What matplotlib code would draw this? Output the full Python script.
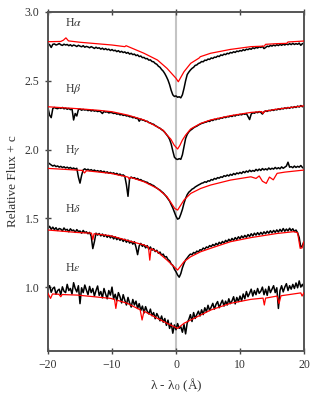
import numpy as np
import matplotlib
matplotlib.use("Agg")
import matplotlib.pyplot as plt

# ── Data ──────────────────────────────────────────────────────────────────────
# observed spectra sampled every 0.25 Å from -20 to +20 (8 values per 2 Å row)
obs_ha = [2.770, 2.762, 2.742, 2.765, 2.768, 2.760, 2.764, 2.771,
          2.762, 2.757, 2.766, 2.760, 2.764, 2.755, 2.762, 2.752,
          2.760, 2.756, 2.749, 2.758, 2.752, 2.747, 2.755, 2.744,
          2.750, 2.746, 2.740, 2.748, 2.742, 2.735, 2.744, 2.736,
          2.740, 2.730, 2.737, 2.727, 2.734, 2.725, 2.730, 2.720,
          2.727, 2.718, 2.722, 2.712, 2.719, 2.708, 2.714, 2.705,
          2.710, 2.700, 2.706, 2.694, 2.700, 2.690, 2.694, 2.683,
          2.688, 2.676, 2.680, 2.668, 2.670, 2.660, 2.662, 2.650,
          2.652, 2.640, 2.638, 2.626, 2.620, 2.606, 2.598, 2.582,
          2.570, 2.552, 2.530, 2.505, 2.472, 2.430, 2.398, 2.386,
          2.390, 2.380, 2.384, 2.376, 2.398, 2.445, 2.500, 2.545,
          2.563, 2.578, 2.590, 2.598, 2.612, 2.615, 2.626, 2.630,
          2.640, 2.638, 2.650, 2.648, 2.658, 2.655, 2.666, 2.662,
          2.672, 2.670, 2.680, 2.676, 2.688, 2.684, 2.694, 2.690,
          2.700, 2.696, 2.706, 2.702, 2.711, 2.706, 2.716, 2.712,
          2.720, 2.716, 2.726, 2.720, 2.730, 2.726, 2.734, 2.729,
          2.740, 2.734, 2.743, 2.738, 2.747, 2.742, 2.750, 2.734,
          2.742, 2.752, 2.748, 2.757, 2.752, 2.760, 2.754, 2.762,
          2.756, 2.765, 2.758, 2.766, 2.760, 2.768, 2.762, 2.770,
          2.763, 2.772, 2.764, 2.770, 2.765, 2.774, 2.758, 2.770,
          2.772]
obs_hb = [2.303, 2.250, 2.232, 2.298, 2.306, 2.300, 2.297, 2.304,
          2.299, 2.306, 2.296, 2.301, 2.293, 2.299, 2.290, 2.296,
          2.215, 2.262, 2.244, 2.291, 2.294, 2.286, 2.292, 2.287,
          2.290, 2.283, 2.288, 2.280, 2.286, 2.279, 2.283, 2.276,
          2.281, 2.274, 2.262, 2.277, 2.272, 2.275, 2.266, 2.270,
          2.268, 2.262, 2.266, 2.257, 2.261, 2.252, 2.256, 2.248,
          2.252, 2.244, 2.246, 2.238, 2.240, 2.231, 2.235, 2.226,
          2.228, 2.206, 2.222, 2.214, 2.213, 2.205, 2.206, 2.196,
          2.194, 2.186, 2.184, 2.174, 2.168, 2.160, 2.155, 2.145,
          2.137, 2.125, 2.110, 2.095, 2.074, 2.040, 1.990, 1.945,
          1.932, 1.928, 1.934, 1.929, 1.962, 2.020, 2.080, 2.110,
          2.128, 2.140, 2.148, 2.158, 2.165, 2.170, 2.178, 2.184,
          2.190, 2.193, 2.198, 2.200, 2.207, 2.204, 2.214, 2.211,
          2.220, 2.217, 2.226, 2.222, 2.231, 2.228, 2.236, 2.232,
          2.240, 2.237, 2.245, 2.240, 2.249, 2.244, 2.254, 2.250,
          2.256, 2.252, 2.261, 2.256, 2.262, 2.240, 2.218, 2.258,
          2.268, 2.264, 2.272, 2.268, 2.276, 2.270, 2.258, 2.274,
          2.281, 2.277, 2.285, 2.282, 2.289, 2.284, 2.292, 2.288,
          2.296, 2.291, 2.300, 2.295, 2.303, 2.298, 2.306, 2.300,
          2.309, 2.303, 2.312, 2.306, 2.316, 2.309, 2.320, 2.311,
          2.314]
obs_hg = [1.905, 1.896, 1.888, 1.880, 1.886, 1.876, 1.881, 1.872,
          1.878, 1.869, 1.875, 1.866, 1.872, 1.864, 1.870, 1.860,
          1.866, 1.858, 1.864, 1.800, 1.756, 1.812, 1.852, 1.860,
          1.851, 1.857, 1.848, 1.854, 1.845, 1.851, 1.842, 1.847,
          1.840, 1.846, 1.836, 1.842, 1.832, 1.838, 1.828, 1.834,
          1.826, 1.831, 1.821, 1.827, 1.816, 1.822, 1.811, 1.816,
          1.806, 1.745, 1.660, 1.790, 1.800, 1.792, 1.796, 1.786,
          1.790, 1.779, 1.782, 1.772, 1.770, 1.764, 1.762, 1.752,
          1.750, 1.742, 1.738, 1.728, 1.720, 1.712, 1.705, 1.694,
          1.685, 1.672, 1.658, 1.642, 1.625, 1.600, 1.575, 1.545,
          1.515, 1.494, 1.500, 1.530, 1.565, 1.610, 1.645, 1.672,
          1.690, 1.700, 1.712, 1.718, 1.728, 1.735, 1.742, 1.748,
          1.755, 1.758, 1.766, 1.762, 1.773, 1.770, 1.782, 1.778,
          1.790, 1.785, 1.796, 1.792, 1.802, 1.798, 1.810, 1.805,
          1.815, 1.808, 1.820, 1.813, 1.826, 1.818, 1.830, 1.824,
          1.834, 1.826, 1.840, 1.832, 1.844, 1.836, 1.850, 1.840,
          1.848, 1.842, 1.856, 1.846, 1.858, 1.848, 1.862, 1.852,
          1.860, 1.852, 1.866, 1.856, 1.864, 1.858, 1.870, 1.860,
          1.868, 1.860, 1.874, 1.864, 1.872, 1.880, 1.908, 1.872,
          1.876, 1.868, 1.880, 1.870, 1.878, 1.872, 1.884, 1.870,
          1.862]
obs_hd = [1.428, 1.442, 1.420, 1.436, 1.418, 1.432, 1.412, 1.426,
          1.422, 1.408, 1.430, 1.414, 1.420, 1.402, 1.424, 1.410,
          1.415, 1.398, 1.418, 1.404, 1.408, 1.392, 1.412, 1.396,
          1.402, 1.388, 1.398, 1.370, 1.280, 1.330, 1.392, 1.378,
          1.390, 1.372, 1.386, 1.368, 1.380, 1.362, 1.376, 1.358,
          1.372, 1.350, 1.366, 1.345, 1.358, 1.340, 1.352, 1.332,
          1.348, 1.326, 1.342, 1.320, 1.334, 1.312, 1.330, 1.290,
          1.236, 1.300, 1.318, 1.296, 1.308, 1.285, 1.302, 1.275,
          1.292, 1.268, 1.280, 1.258, 1.268, 1.246, 1.255, 1.232,
          1.240, 1.218, 1.222, 1.200, 1.192, 1.168, 1.158, 1.130,
          1.112, 1.088, 1.072, 1.098, 1.140, 1.172, 1.198, 1.212,
          1.228, 1.240, 1.236, 1.252, 1.246, 1.262, 1.255, 1.272,
          1.268, 1.284, 1.276, 1.292, 1.286, 1.302, 1.294, 1.310,
          1.300, 1.318, 1.306, 1.326, 1.314, 1.332, 1.320, 1.340,
          1.328, 1.348, 1.334, 1.354, 1.340, 1.360, 1.346, 1.366,
          1.352, 1.372, 1.358, 1.376, 1.362, 1.382, 1.368, 1.388,
          1.372, 1.392, 1.378, 1.396, 1.380, 1.398, 1.384, 1.402,
          1.388, 1.406, 1.392, 1.410, 1.394, 1.412, 1.398, 1.416,
          1.400, 1.420, 1.404, 1.426, 1.406, 1.422, 1.408, 1.428,
          1.410, 1.424, 1.404, 1.415, 1.395, 1.360, 1.290, 1.300,
          1.335]
obs_he = [0.995, 1.010, 0.962, 0.990, 1.000, 0.948, 0.975, 0.985,
          0.945, 1.002, 0.970, 0.960, 1.020, 0.975, 0.990, 0.950,
          1.032, 0.990, 0.965, 1.010, 0.880, 0.995, 0.960, 1.015,
          0.978, 0.945, 1.005, 0.960, 0.990, 0.935, 0.975, 1.008,
          0.940, 0.968, 0.922, 0.990, 0.950, 0.915, 0.975, 0.942,
          1.000, 0.915, 0.948, 0.900, 0.960, 0.930, 0.885, 0.945,
          0.905, 0.870, 0.925, 0.885, 0.855, 0.910, 0.870, 0.898,
          0.845, 0.880, 0.830, 0.862, 0.812, 0.858, 0.825, 0.805,
          0.840, 0.792, 0.815, 0.770, 0.808, 0.785, 0.755, 0.790,
          0.745, 0.772, 0.722, 0.760, 0.700, 0.738, 0.665, 0.725,
          0.690, 0.735, 0.700, 0.712, 0.672, 0.728, 0.660, 0.740,
          0.765, 0.800, 0.750, 0.815, 0.772, 0.800, 0.825, 0.790,
          0.835, 0.800, 0.850, 0.820, 0.868, 0.830, 0.855, 0.882,
          0.840, 0.875, 0.895, 0.850, 0.880, 0.905, 0.862, 0.898,
          0.870, 0.915, 0.880, 0.900, 0.930, 0.878, 0.925, 0.895,
          0.935, 0.900, 0.950, 0.915, 0.968, 0.930, 0.955, 0.985,
          0.935, 0.975, 0.945, 0.990, 0.955, 0.970, 1.000, 0.945,
          0.985, 0.940, 1.005, 0.960, 0.985, 1.010, 0.960, 0.995,
          0.845, 0.975, 1.010, 0.965, 1.000, 1.025, 0.975, 1.010,
          0.985, 1.020, 0.990, 1.030, 0.995, 1.045, 1.000, 1.020,
          0.995]

# model spectra (red)
mod_ha_x = [-20, -18, -17.6, -17.2, -16.8, -15, -10, -8, -7.8, -5, -2.9, -1.4, 0,
            0.36, 1.25, 2.3, 3.6, 3.8, 5.4, 8.5, 11.7, 13.8, 14.0, 15.8, 17.3,
            17.5, 20]
mod_ha = [2.784, 2.786, 2.795, 2.812, 2.790, 2.780, 2.760, 2.748, 2.755, 2.700,
          2.651, 2.590, 2.518, 2.493, 2.566, 2.627, 2.665, 2.675, 2.700, 2.728,
          2.748, 2.752, 2.765, 2.770, 2.772, 2.782, 2.789]

mod_hb_x = [-20, -15, -12, -10, -7.5, -5, -3, -2, -1.4, -0.8, -0.3, 0.25, 0.6,
            1.0, 1.5, 2.3, 3.85, 5.4, 8.5, 11.7, 13.4, 13.6, 13.8, 15.8, 20]
mod_hb = [2.311, 2.296, 2.285, 2.275, 2.250, 2.215, 2.167, 2.140, 2.105, 2.075,
          2.033, 2.004, 2.030, 2.069, 2.105, 2.150, 2.190, 2.215, 2.246, 2.270,
          2.276, 2.262, 2.278, 2.294, 2.318]

mod_hg_x = [-20, -17, -14.6, -14.3, -14.0, -10.2, -7.5, -7.3, -7.1, -5, -2.9,
            -1.4, -0.2, 0.25, 1.25, 2.3, 3.85, 5.4, 8.5, 11.7, 12.5, 13.0, 13.5,
            14.1, 14.6, 15.2, 15.8, 17, 20]
mod_hg = [1.863, 1.855, 1.848, 1.830, 1.846, 1.827, 1.800, 1.785, 1.798, 1.766,
          1.717, 1.657, 1.572, 1.560, 1.633, 1.681, 1.717, 1.742, 1.778, 1.802,
          1.790, 1.808, 1.770, 1.754, 1.800, 1.780, 1.827, 1.836, 1.851]

mod_hd_x = [-20, -15.4, -13.2, -13.0, -12.8, -10.2, -5, -4.3, -4.1, -3.9, -2.9,
            -1.4, 0.25, 1.25, 2.3, 3.85, 5.4, 8.5, 11.7, 15.8, 18.4, 19.0, 19.4,
            19.7, 20]
mod_hd = [1.415, 1.397, 1.392, 1.345, 1.388, 1.373, 1.306, 1.290, 1.196, 1.280,
          1.257, 1.196, 1.124, 1.185, 1.221, 1.257, 1.282, 1.330, 1.360, 1.390,
          1.403, 1.395, 1.282, 1.285, 1.330]

mod_he_x = [-20, -19.6, -19.3, -18.3, -18.0, -17.8, -15.4, -10.2, -9.6, -9.4,
            -9.2, -7.6, -5.6, -5.3, -5.0, -2.9, -1.4, 0.25, 1.25, 3.85, 5.4, 8.5,
            11.7, 13.6, 13.8, 14.0, 15.8, 16.1, 16.4, 19.5, 19.7, 20]
mod_he = [0.954, 0.918, 0.950, 0.948, 0.930, 0.946, 0.942, 0.918, 0.910, 0.845,
          0.905, 0.882, 0.835, 0.761, 0.825, 0.773, 0.737, 0.700, 0.737, 0.797,
          0.833, 0.882, 0.911, 0.920, 0.870, 0.920, 0.935, 0.880, 0.937, 0.958,
          0.935, 0.959]

line_labels = [r"H$\alpha$", r"H$\beta$", r"H$\gamma$", r"H$\delta$", r"H$\epsilon$"]
label_y = [2.92, 2.44, 2.0, 1.57, 1.14]

# ── Plot ──────────────────────────────────────────────────────────────────────
plt.rcParams["font.family"] = ["Liberation Serif", "DejaVu Serif"]
plt.rcParams["mathtext.fontset"] = "stix"
plt.rcParams["font.size"] = 9

fig = plt.figure(figsize=(3.2, 4.0), dpi=100)
ax = fig.add_axes([0.15, 0.123, 0.80, 0.847])

ax.axvline(0, color="#c4c4c4", lw=1.5, zorder=0)

observed = [obs_ha, obs_hb, obs_hg, obs_hd, obs_he]
models = [(mod_ha_x, mod_ha), (mod_hb_x, mod_hb), (mod_hg_x, mod_hg),
          (mod_hd_x, mod_hd), (mod_he_x, mod_he)]
for obs, (mx, my) in zip(observed, models):
    wave = np.linspace(-20, 20, len(obs))
    ax.plot(wave, obs, color="black", lw=1.1, zorder=2)
    ax.plot(mx, my, color="red", lw=0.9, zorder=3)

for lab, yy in zip(line_labels, label_y):
    ax.text(-17.3, yy, lab, fontsize=8.5, color="#333333", va="center")

ax.set_xlim(-20, 20)
ax.set_ylim(0.537, 3.0)
ax.set_xticks([-20, -10, 0, 10, 20])
ax.set_xticklabels(["\u221220", "\u221210", "0", "10", "20"])
ax.set_yticks([1.0, 1.5, 2.0, 2.5, 3.0])
ax.tick_params(direction="inout", length=5, width=1, colors="#444444",
               labelcolor="#333333", labelsize=8.5, top=True, right=False)
for sp in ax.spines.values():
    sp.set_color("#555555")
    sp.set_linewidth(1.4)

ax.set_xlabel("\u03bb - \u03bb$_0$ (\u00c5)", color="#333333", fontsize=9.5)
ax.set_ylabel("Relative Flux + c", color="#333333", fontsize=9.5)

fig.savefig("out.png", dpi=100)
